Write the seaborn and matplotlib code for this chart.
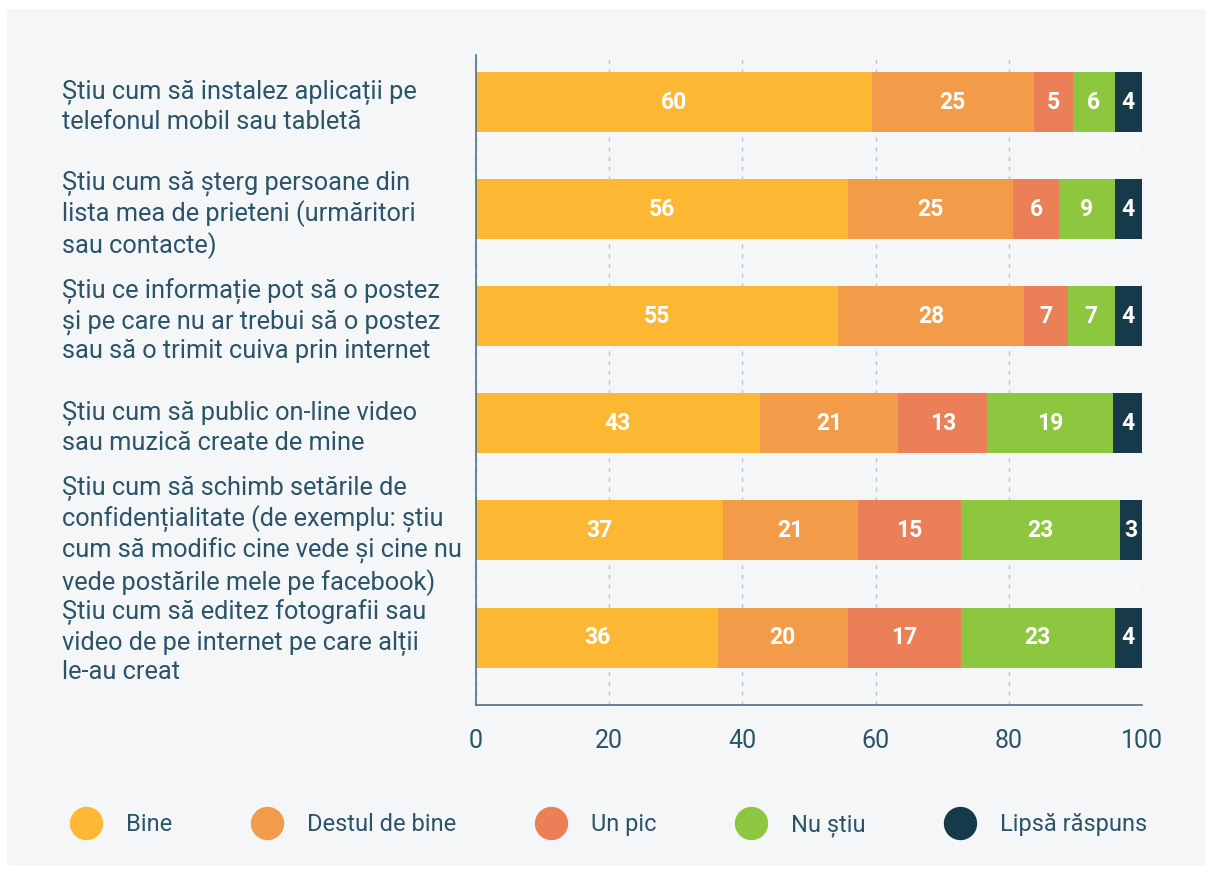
import matplotlib
matplotlib.use("Agg")
import matplotlib.pyplot as plt
from matplotlib.patches import FancyBboxPatch
from matplotlib.lines import Line2D

import numpy as np
import pandas as pd
import seaborn as sns

# Data (percent of respondents)
items = [
    "Știu cum să instalez aplicații pe\ntelefonul mobil sau tabletă",
    "Știu cum să șterg persoane din\nlista mea de prieteni (urmăritori\nsau contacte)",
    "Știu ce informație pot să o postez\nși pe care nu ar trebui să o postez\nsau să o trimit cuiva prin internet",
    "Știu cum să public on-line video\nsau muzică create de mine",
    "Știu cum să schimb setările de\nconfidențialitate (de exemplu: știu\ncum să modific cine vede și cine nu\nvede postările mele pe facebook)",
    "Știu cum să editez fotografii sau\nvideo de pe internet pe care alții\nle-au creat",
]
series = ["Bine", "Destul de bine", "Un pic", "Nu știu", "Lipsă răspuns"]

bine = [59.4, 55.8, 54.4, 42.6, 37.1, 36.3]
destul = [24.4, 24.8, 27.9, 20.8, 20.3, 19.5]
un_pic = [5.8, 7.0, 6.6, 13.4, 15.4, 17.0]
nu_stiu = [6.3, 8.3, 7.0, 18.9, 23.9, 23.1]
lipsa = [4.1, 4.1, 4.1, 4.3, 3.3, 4.1]

# labels as printed on the bars
lbl_bine = [60, 56, 55, 43, 37, 36]
lbl_destul = [25, 25, 28, 21, 21, 20]
lbl_un_pic = [5, 6, 7, 13, 15, 17]
lbl_nu_stiu = [6, 9, 7, 19, 23, 23]
lbl_lipsa = [4, 4, 4, 4, 3, 4]

colors = ["#FDB833", "#F29C4A", "#EA7F58", "#8DC63F", "#163A4A"]
text_color = "#2B5469"
bg_color = "#F4F6F8"

sns.set_theme(style="white")
plt.rcParams["font.family"] = ["Roboto", "DejaVu Sans"]

values = np.array([bine, destul, un_pic, nu_stiu, lipsa])
labels = [lbl_bine, lbl_destul, lbl_un_pic, lbl_nu_stiu, lbl_lipsa]
cum = values.cumsum(axis=0)

fig = plt.figure(figsize=(12.12, 8.72), dpi=100)
fig.patch.set_facecolor("white")
fig.patches.append(FancyBboxPatch((7 / 1212, 6 / 872), 1199 / 1212, 857 / 872,
                                  boxstyle="round,pad=0,rounding_size=0.004",
                                  transform=fig.transFigure, facecolor=bg_color,
                                  edgecolor="none", zorder=-10))

ax = fig.add_axes([476 / 1212, 1 - 705 / 872, 666 / 1212, 650 / 872])
ax.set_facecolor(bg_color)

# stacked bars: draw cumulative totals from the outermost segment inward
for k in range(len(series) - 1, -1, -1):
    df = pd.DataFrame({"item": items, "value": cum[k]})
    sns.barplot(data=df, x="value", y="item", order=items, orient="h",
                color=colors[k], saturation=1, width=0.56, ax=ax,
                linewidth=0, zorder=3)

for k in range(len(series)):
    for i in range(len(items)):
        centre = cum[k][i] - values[k][i] / 2
        ax.text(centre, i, str(labels[k][i]), ha="center", va="center",
                color="white", fontsize=16.5, fontweight="bold", zorder=5)

ax.set_xlim(0, 100)
ax.set_ylim(5.63, -0.44)
ax.set_xticks([0, 20, 40, 60, 80, 100])
ax.set_xlabel("")
ax.set_ylabel("")

ax.grid(axis="x", linestyle=(0, (3, 4)), color="#B9C5CD", linewidth=1, zorder=0)
ax.grid(axis="y", visible=False)
for side in ["top", "right"]:
    ax.spines[side].set_visible(False)
for side in ["left", "bottom"]:
    ax.spines[side].set_color("#4F7188")
    ax.spines[side].set_linewidth(1.2)
    ax.spines[side].set_zorder(6)

ax.tick_params(axis="x", length=0, pad=17, labelsize=18, labelcolor=text_color)
ax.tick_params(axis="y", length=0, pad=298, labelsize=18.3, labelcolor=text_color)
for t in ax.get_yticklabels():
    t.set_ha("left")
    t.set_linespacing(1.23)

handles = [Line2D([0], [0], marker="o", linestyle="", markersize=23,
                  markerfacecolor=c, markeredgecolor=c) for c in colors]
fig.legend(handles, series, loc="center", bbox_to_anchor=(0.499, 1 - 825 / 872),
           ncol=5, frameon=False, fontsize=17, labelcolor=text_color,
           handletextpad=0.7, columnspacing=3.0)

fig.savefig("out.png", dpi=100, facecolor=fig.get_facecolor())
